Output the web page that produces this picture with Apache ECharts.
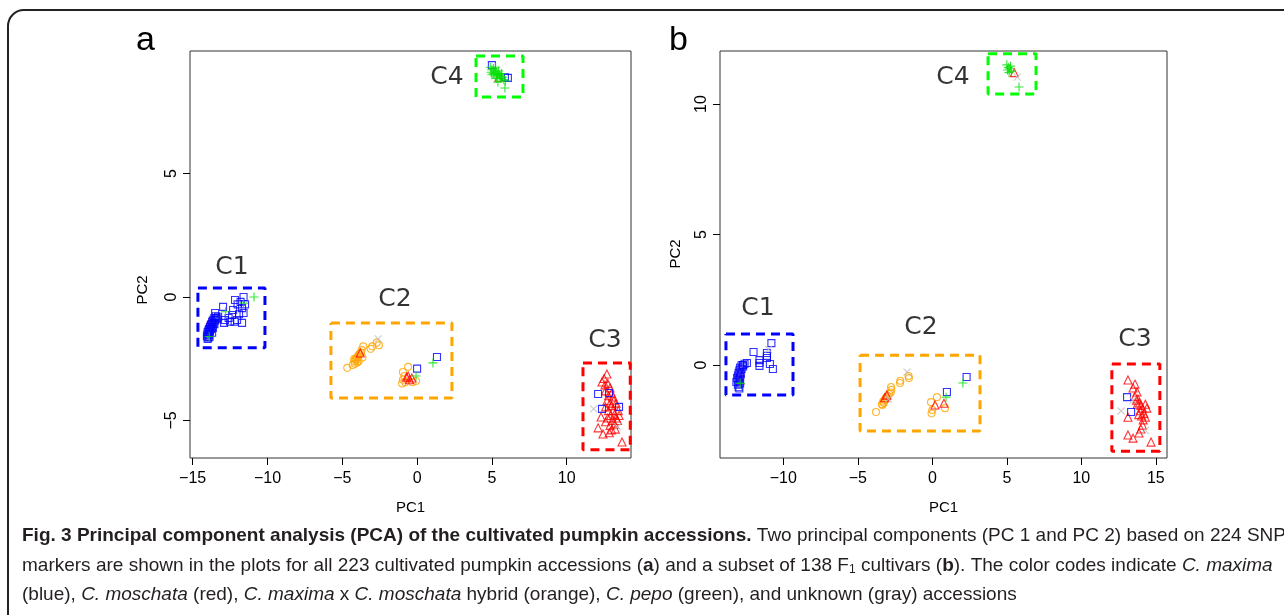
<!DOCTYPE html>
<html><head><meta charset="utf-8">
<script src="https://cdn.jsdelivr.net/npm/echarts@6/dist/echarts.min.js"></script>
<style>html,body{margin:0;padding:0;background:#fff}#c{width:1284px;height:615px}</style>
</head><body><div id="c"></div>
<script>
// ---------- Panel a data (PC1, PC2) ----------
const aMaxima = [
 [-13.45,-0.78],[-13.55,-0.85],[-13.5,-0.95],[-13.62,-0.92],[-13.7,-1.0],[-13.6,-1.05],[-13.75,-1.1],[-13.8,-1.15],[-13.7,-1.2],[-13.85,-1.22],
 [-13.9,-1.3],[-13.78,-1.3],[-13.95,-1.35],[-13.85,-1.4],[-14.0,-1.42],[-13.92,-1.48],[-14.02,-1.52],[-13.9,-1.55],[-14.05,-1.6],[-13.95,-1.65],
 [-14.0,-1.7],[-13.88,-1.62],[-13.7,-1.45],[-13.65,-1.25],[-13.55,-1.1],[-13.4,-0.9],[-13.3,-0.8],
 [-12.17,-0.12],[-11.6,0.0],[-11.8,-0.2],[-12.97,-0.4],[-12.3,-0.53],[-11.7,-0.45],[-11.6,-0.65],[-12.37,-0.73],[-12.84,-0.93],
 [-12.5,-1.0],[-12.03,-0.93],[-11.7,-1.05],[-13.4,-0.85],[-13.5,-0.65],[-12.0,-0.3],[-12.6,-0.85],[-11.9,-0.7],[-12.2,-1.0],[-12.9,-1.05],[-11.5,-0.3],
 [0.0,-2.9],[1.33,-2.43],
 [12.1,-3.93],[12.83,-3.89],[12.36,-4.53],[13.5,-4.45],
 [5.0,9.39],[5.87,8.9],[6.07,8.87]
];
const aMoschata = [
 [-13.85,-1.0],
 [-3.8,-2.27],[-0.7,-3.25],[-0.5,-3.35],[-0.35,-3.28],[-0.6,-3.2],
 [12.69,-3.12],[12.36,-3.44],[12.56,-3.56],[12.9,-3.68],[13.1,-4.05],[12.6,-3.8],[12.8,-4.0],[12.7,-4.2],[12.9,-4.3],[13.0,-4.4],
 [12.6,-4.45],[13.1,-4.6],[12.8,-4.6],[13.2,-4.75],[12.95,-4.8],[13.3,-4.9],[12.75,-4.9],[13.05,-5.0],[13.4,-5.0],[12.6,-5.05],
 [13.2,-5.15],[12.9,-5.2],[12.1,-5.3],[12.43,-5.55],[13.0,-5.38],[13.7,-5.87],[12.3,-4.86],[13.3,-4.3],[13.45,-4.6],[12.5,-3.3],
 [12.75,-3.5],[13.0,-3.9],[13.15,-4.2],[13.5,-4.8],[12.85,-5.5],[13.25,-5.35],
 [5.47,8.9]
];
const aHybrid = [
 [-4.3,-2.75],[-4.2,-2.6],[-4.1,-2.5],[-4.0,-2.45],[-3.9,-2.35],[-4.15,-2.7],[-4.05,-2.55],[-3.95,-2.4],[-3.85,-2.3],[-4.2,-2.5],
 [-4.0,-2.65],[-3.75,-2.25],[-3.7,-2.15],[-3.6,-2.0],[-4.67,-2.87],[-3.0,-2.0],[-3.1,-2.1],[-2.55,-1.95],[-2.7,-1.85],[-3.65,-2.45],[-3.9,-2.6],
 [-0.6,-2.83],[-0.95,-3.04],[-1.0,-3.5],[-0.95,-3.35],[-0.07,-3.4],[-0.85,-3.2],[-0.3,-3.45],[-0.8,-3.45]
];
const aPepo = [
 [-10.9,0.0],[-11.6,-0.25],[-12.8,-0.6],[-13.9,-1.6],
 [-0.07,-3.2],[1.06,-2.67],
 [4.9,9.3],[5.0,9.2],[5.1,9.25],[5.2,9.15],[5.3,9.1],[5.4,9.05],[5.5,9.0],[5.6,8.95],[5.2,9.0],[5.35,8.95],[5.1,9.05],[5.45,9.15],
 [5.7,8.9],[5.8,8.8],[5.0,9.0],[5.25,9.3],[5.55,8.85],[5.65,9.05],[5.9,8.75],[5.3,8.85],[5.87,8.46],[5.4,8.7],[4.95,9.1]
];
const aUnknown = [[-2.6,-1.7],[11.8,-4.53],[13.4,-5.26]];

// ---------- Panel b data (PC1, PC2) ----------
const bMaxima = [
 [-12.9,-0.1],[-12.8,-0.15],[-12.95,-0.2],[-13.0,-0.3],[-12.85,-0.35],[-13.05,-0.4],[-12.9,-0.45],[-13.1,-0.5],[-12.95,-0.55],[-13.0,-0.6],
 [-13.15,-0.65],[-12.9,-0.7],[-13.05,-0.75],[-13.0,-0.85],[-12.95,-0.9],[-12.7,-0.05],[-12.6,0.05],[-12.8,0.0],
 [-10.8,0.84],[-12.0,0.5],[-11.1,0.46],[-11.1,0.35],[-11.1,0.27],[-11.6,0.19],[-11.6,0.08],[-11.6,-0.03],[-10.9,0.04],[-10.7,-0.15],[-12.44,0.08],[-12.7,0.0],
 [0.98,-1.03],[2.3,-0.46],
 [13.07,-1.23],[13.34,-1.8]
];
const bMoschata = [
 [-12.9,-0.27],[-12.9,-0.57],
 [-3.05,-1.15],[-3.2,-1.25],[0.18,-1.53],[0.78,-1.46],
 [13.13,-0.57],[13.6,-0.73],[13.47,-0.88],[13.74,-1.03],[13.6,-1.2],[13.8,-1.3],[13.9,-1.45],[14.0,-1.55],[13.75,-1.5],[14.1,-1.65],
 [13.95,-1.75],[14.2,-1.85],[14.05,-1.95],[14.3,-2.0],[13.85,-1.9],[14.4,-1.65],[14.15,-2.1],[13.13,-2.0],[14.1,-2.3],[13.13,-2.68],
 [13.47,-2.8],[13.87,-2.6],[14.68,-2.95],[14.0,-2.45],[13.7,-1.35],[14.3,-1.5],
 [5.5,11.2]
];
const bHybrid = [
 [-3.38,-1.5],[-3.3,-1.4],[-3.2,-1.35],[-3.1,-1.25],[-3.0,-1.2],[-2.9,-1.1],[-2.8,-1.05],[-3.25,-1.45],[-3.15,-1.3],[-3.35,-1.53],
 [-3.78,-1.8],[-2.77,-0.84],[-2.75,-0.95],[-2.17,-0.69],[-2.15,-0.6],[-1.57,-0.5],[-1.6,-0.42],
 [0.31,-1.23],[-0.09,-1.42],[0.0,-1.72],[-0.05,-1.85],[0.85,-1.65]
];
const bPepo = [
 [-12.9,-0.7],[0.92,-1.23],[2.05,-0.69],
 [5.0,11.5],[5.1,11.4],[5.2,11.35],[5.05,11.3],[5.3,11.25],[5.15,11.2],[5.25,11.45],[5.82,10.65]
];
const bUnknown = [[-11.0,0.6],[-1.7,-0.27],[-2.95,-1.3],[12.67,-1.76],[13.47,-1.35],[14.3,-2.5],[5.7,11.03]];

// ---------- cluster boxes [xmin, xmax, ymin, ymax] and labels ----------
const clusterNames = ['C1','C2','C3','C4'];
const aBoxes = [[-14.65,-10.17,-2.06,0.36],[-5.76,2.33,-4.09,-1.05],[11.09,14.25,-6.19,-2.67],[3.94,7.08,8.1,9.76]];
const bBoxes = [[-13.85,-9.35,-1.15,1.19],[-4.85,3.2,-2.53,0.38],[12.05,15.27,-3.3,0.04],[3.74,6.96,10.38,11.92]];
const aLabelPos = [[-12.37,1.21],[-1.48,-0.12],[12.56,-1.78],[2.0,8.87]];
const bLabelPos = [[-11.7,2.18],[-0.76,1.42],[13.6,0.96],[1.38,11.0]];
const boxColors = ['#0000FF','#FFA500','#FF0000','#00FF00'];

// ---------- ticks ----------
const aXTicks = [-15,-10,-5,0,5,10];
const aYTicks = [-5,0,5];
const bXTicks = [-10,-5,0,5,10,15];
const bYTicks = [0,5,10];

const COL = {maxima:'#0000FF', moschata:'#FF0000', hybrid:'#FFA500', pepo:'#00E000', unknown:'#BEBEBE'};
const PLUS = 'path://M0,5L10,5M5,0L5,10';
const CROSS = 'path://M0,0L10,10M10,0L0,10';

function pts(data, gi, symbol, color, size) {
  return {type:'scatter', xAxisIndex:gi, yAxisIndex:gi, data, symbol, symbolSize:size, silent:true,
    itemStyle:{color:'rgba(0,0,0,0)', borderColor:color, borderWidth:1.1}, z:3};
}
function boxes(list, gi) {
  return list.map((b,i)=>({type:'line', xAxisIndex:gi, yAxisIndex:gi, silent:true, symbol:'none', z:2,
    data:[[b[0],b[3]],[b[1],b[3]],[b[1],b[2]],[b[0],b[2]],[b[0],b[3]]],
    lineStyle:{color:boxColors[i], width:3, type:[9,6]}, clip:true}));
}
function labels(pos, gi) {
  return {type:'scatter', xAxisIndex:gi, yAxisIndex:gi, silent:true, symbolSize:0, z:4,
    data: pos.map((p,i)=>({name:clusterNames[i], value:p})),
    label:{show:true, position:'inside', formatter:'{b}', color:'#000', fontSize:25, fontFamily:'DejaVu Sans'}};
}
const fmt = v => String(v).replace('-', '\u2212');
function xAx(gi, min, max, ticks) {
  return {type:'value', gridIndex:gi, min, max, name:'PC1', nameLocation:'middle', nameGap:42,
    nameTextStyle:{fontSize:15, color:'#000', fontFamily:'Liberation Sans'},
    axisLine:{show:false, onZero:false}, splitLine:{show:false},
    axisTick:{show:true, length:7, customValues:ticks, lineStyle:{color:'#000'}},
    axisLabel:{customValues:ticks, formatter:fmt, fontSize:16, color:'#000', margin:13, fontFamily:'Liberation Sans'}};
}
function yAx(gi, min, max, ticks) {
  return {type:'value', gridIndex:gi, min, max,
    axisLine:{show:false, onZero:false}, splitLine:{show:false},
    axisTick:{show:true, length:7, customValues:ticks, lineStyle:{color:'#000'}},
    axisLabel:{customValues:ticks, formatter:fmt, rotate:90, fontSize:16, color:'#000', margin:10, fontFamily:'Liberation Sans'}};
}

const chart = echarts.init(document.getElementById('c'), null, {renderer:'canvas'});
const capFont = "'Liberation Sans',sans-serif";
const capSize = 19;
const rich = {
  b:{fontWeight:'bold', fontSize:capSize, fontFamily:capFont, fill:'#231f20'},
  i:{fontStyle:'italic', fontSize:capSize, fontFamily:capFont, fill:'#231f20'},
  n:{fontSize:capSize, fontFamily:capFont, fill:'#231f20'},
  s:{fontSize:12, fontFamily:capFont, fill:'#231f20', padding:[8,0,0,0]}
};
function cap(y, text) {
  return {type:'text', left:22, top:y, silent:true,
    style:{text, rich, fontSize:capSize, fontFamily:capFont, fill:'#231f20'}};
}
chart.setOption({
  animation:false,
  grid:[
    {left:190, top:51, width:441, height:407, show:true, borderColor:'#333', borderWidth:1, backgroundColor:'transparent'},
    {left:720, top:51, width:447, height:407, show:true, borderColor:'#333', borderWidth:1, backgroundColor:'transparent'}
  ],
  xAxis:[xAx(0,-15.18,14.3,aXTicks), xAx(1,-14.25,15.75,bXTicks)],
  yAxis:[yAx(0,-6.52,9.96,aYTicks), yAx(1,-3.56,12.03,bYTicks)],
  series:[
    ...boxes(aBoxes,0), ...boxes(bBoxes,1),
    pts(aHybrid,0,'circle',COL.hybrid,7), pts(aMoschata,0,'triangle',COL.moschata,8), pts(aMaxima,0,'rect',COL.maxima,7),
    pts(aPepo,0,PLUS,COL.pepo,9), pts(aUnknown,0,CROSS,COL.unknown,7),
    pts(bHybrid,1,'circle',COL.hybrid,7), pts(bMoschata,1,'triangle',COL.moschata,8), pts(bMaxima,1,'rect',COL.maxima,7),
    pts(bPepo,1,PLUS,COL.pepo,9), pts(bUnknown,1,CROSS,COL.unknown,7),
    labels(aLabelPos,0), labels(bLabelPos,1)
  ],
  graphic:[
    {type:'rect', silent:true, shape:{x:8, y:10, width:1300, height:640, r:16}, style:{fill:'none', stroke:'#222', lineWidth:2}},
    {type:'text', left:136, top:24, silent:true, style:{text:'a', fontSize:34, fontFamily:'Liberation Sans', fill:'#000'}},
    {type:'text', left:669, top:24, silent:true, style:{text:'b', fontSize:34, fontFamily:'Liberation Sans', fill:'#000'}},
    {type:'text', x:143, y:290, rotation:Math.PI/2, silent:true,
      style:{text:'PC2', fontSize:15, fontFamily:'Liberation Sans', fill:'#000', align:'center', verticalAlign:'middle'}},
    {type:'text', x:676, y:254, rotation:Math.PI/2, silent:true,
      style:{text:'PC2', fontSize:15, fontFamily:'Liberation Sans', fill:'#000', align:'center', verticalAlign:'middle'}},
    cap(526, '{b|Fig. 3 Principal component analysis (PCA) of the cultivated pumpkin accessions.}{n| Two principal components (PC 1 and PC 2) based on 224 SNP}'),
    cap(556, '{n|markers are shown in the plots for all 223 cultivated pumpkin accessions (}{b|a}{n|) and a subset of 138 F}{s|1}{n| cultivars (}{b|b}{n|). The color codes indicate }{i|C. maxima}'),
    cap(585, '{n|(blue), }{i|C. moschata}{n| (red), }{i|C. maxima}{n| x }{i|C. moschata}{n| hybrid (orange), }{i|C. pepo}{n| (green), and unknown (gray) accessions}')
  ]
});
</script></body></html>
